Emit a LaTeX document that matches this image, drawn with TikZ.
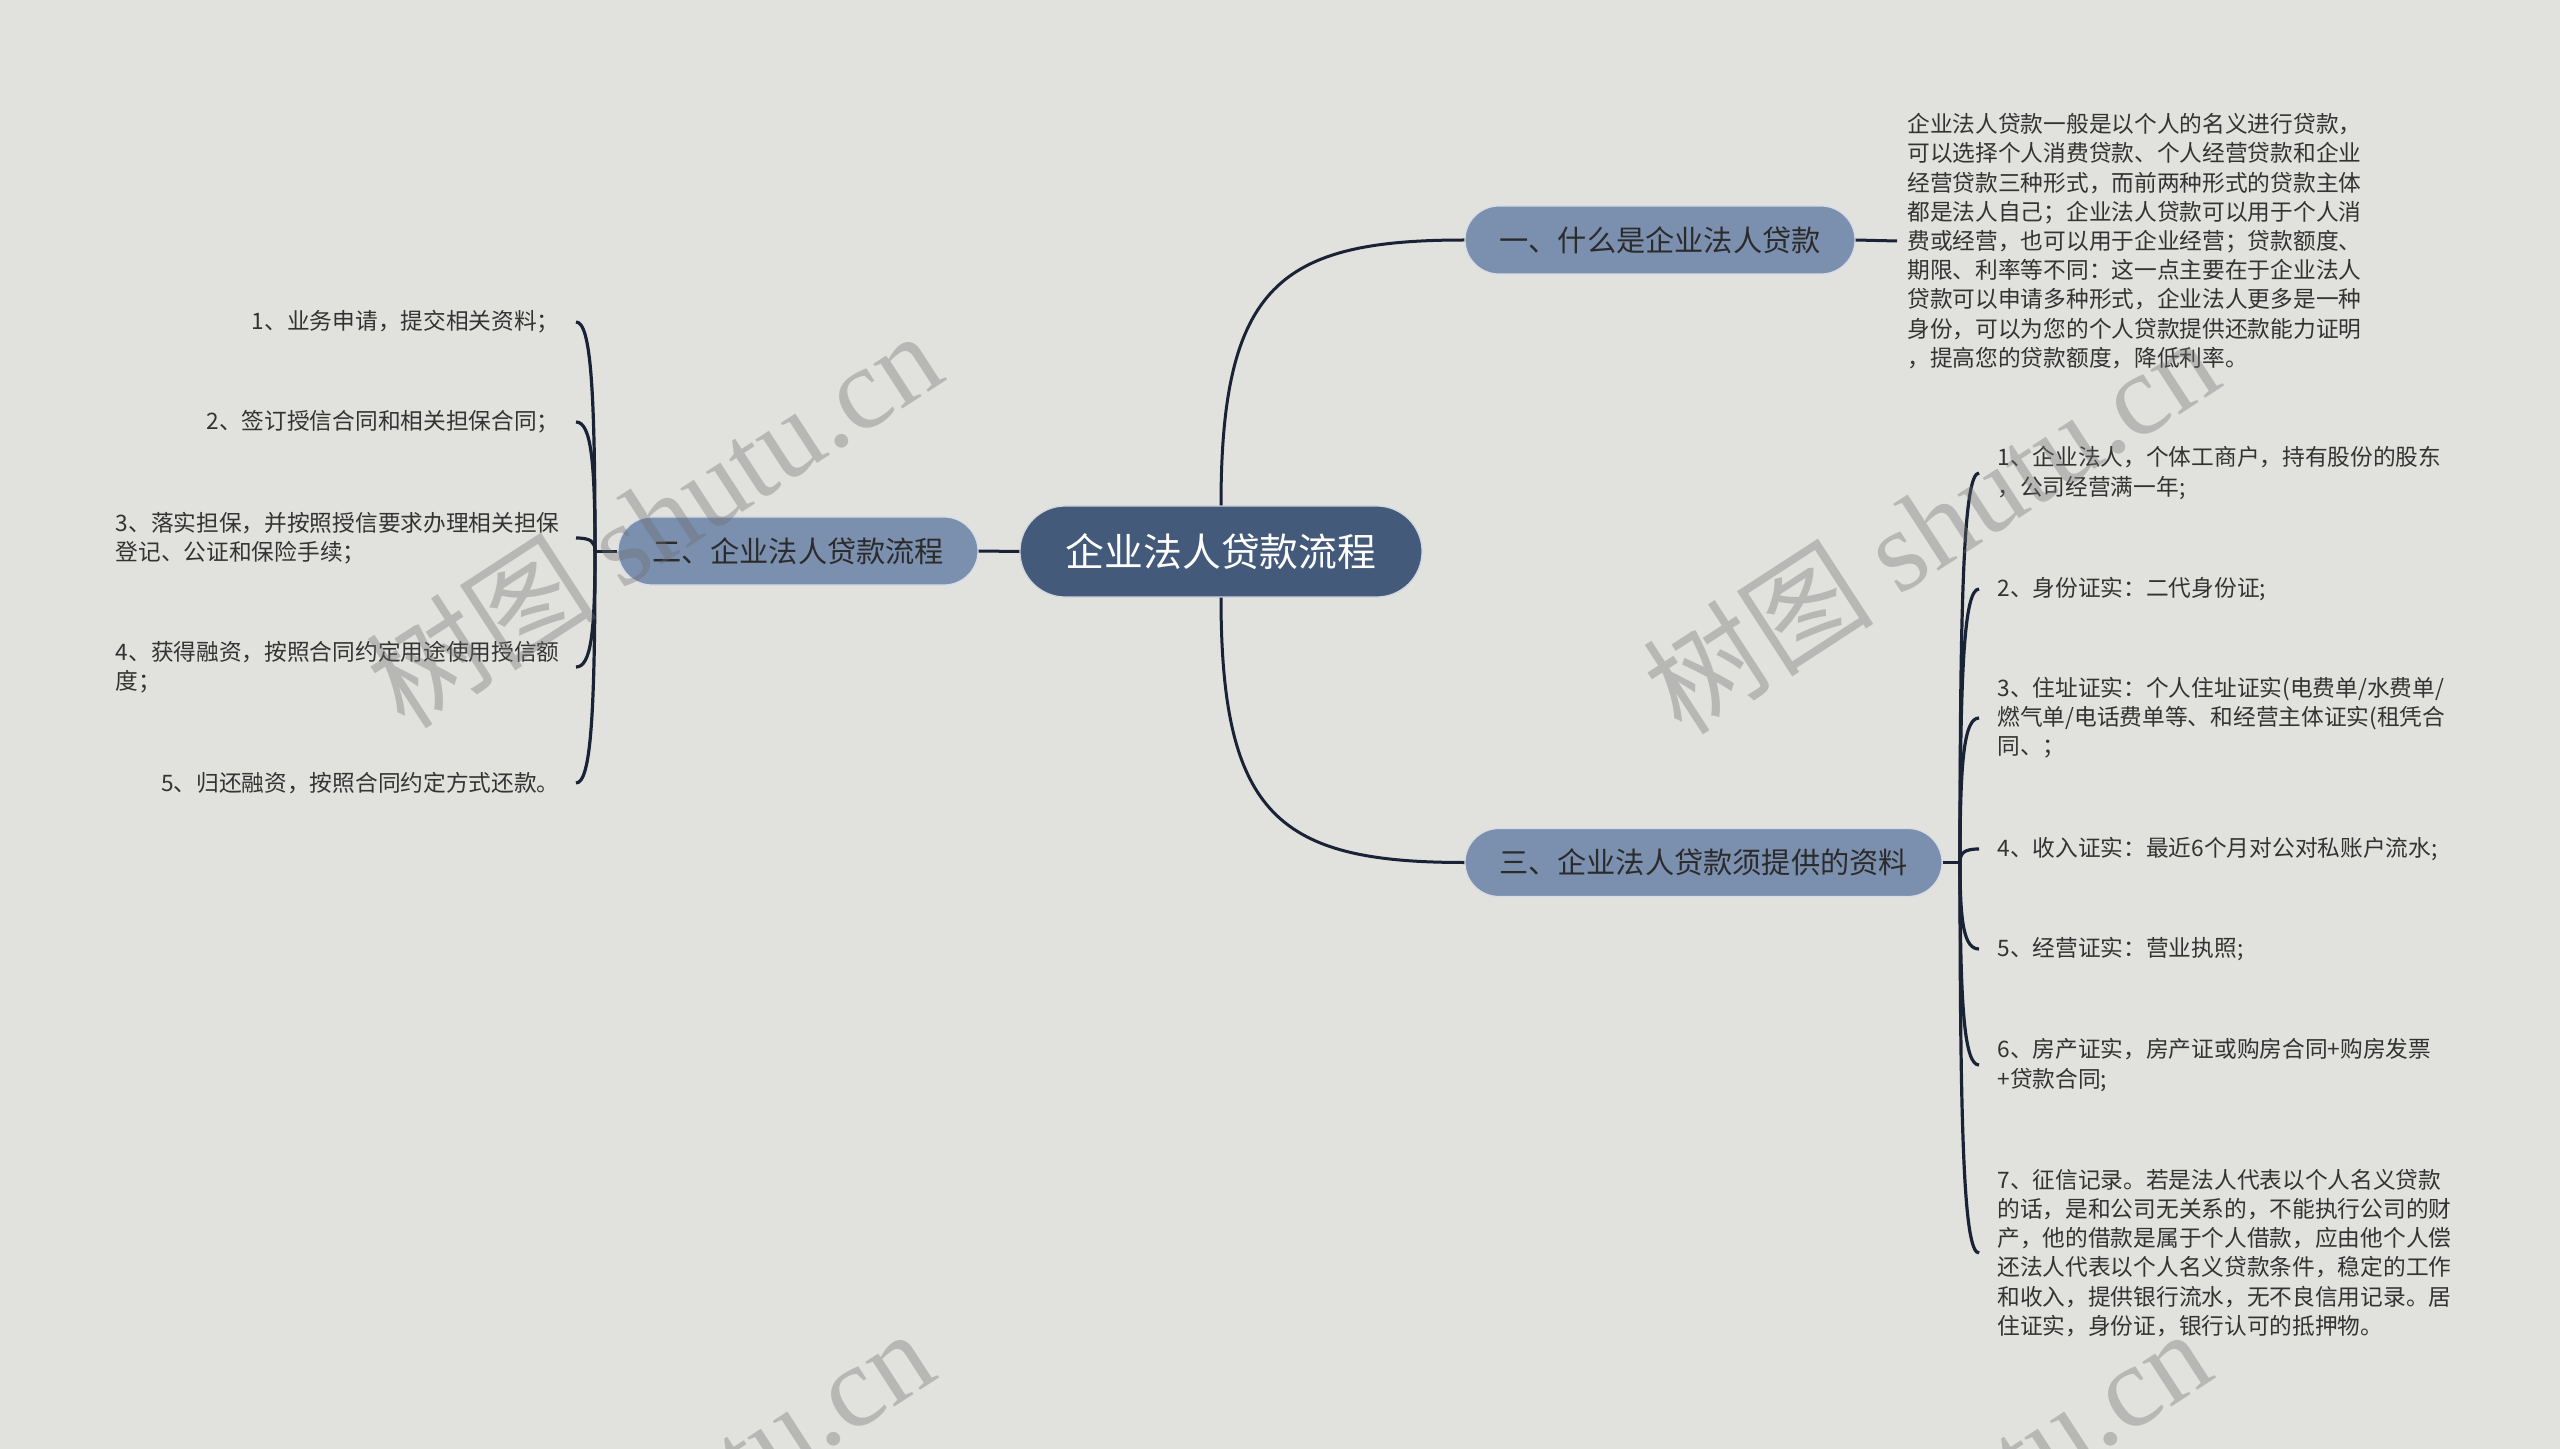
\documentclass[tikz,border=0pt]{standalone}
\usepackage{fontspec}
\setmainfont{Noto Sans CJK SC}
\newfontfamily\wmlatin{Liberation Serif}
\usetikzlibrary{calc}
\definecolor{bgC}{HTML}{E1E2DE}
\definecolor{rootC}{HTML}{445A7A}
\definecolor{subC}{HTML}{7B8FAE}
\definecolor{lineC}{HTML}{1A2236}
\definecolor{txtC}{HTML}{333333}
\definecolor{subtxtC}{HTML}{2B2B2B}
\definecolor{wmC}{HTML}{6E6E6E}
\begin{document}
\begin{tikzpicture}[x=0.5pt,y=-0.5pt,
  conn/.style={line width=1.5pt, draw=lineC},
  bracket/.style={line width=1.6pt, draw=lineC},
  rootbox/.style={fill=rootC, draw=white!75!rootC, line width=0.6pt, rounded corners=22.7pt,
    minimum width=201pt, minimum height=45.5pt, inner sep=0pt, text=white,
    font=\fontsize{19.4pt}{23pt}\selectfont},
  subbox/.style={fill=subC, draw=white!70!subC, line width=0.6pt, rounded corners=17pt,
    minimum height=34pt, inner sep=0pt, text=subtxtC,
    font=\fontsize{14.6pt}{17pt}\selectfont},
  itemR/.style={anchor=west, inner xsep=9pt, inner ysep=0pt, align=left, text=txtC,
    font=\fontsize{11.35pt}{14.6pt}\selectfont},
  itemL/.style={anchor=east, inner xsep=8pt, inner ysep=0pt, align=left, text=txtC,
    font=\fontsize{11.35pt}{14.6pt}\selectfont},
  wm/.style={text=wmC, text opacity=0.36, inner sep=0pt,
    font=\fontsize{58pt}{64pt}\selectfont}
]
\useasboundingbox (0,0) rectangle (2560,1449);
\fill[bgC] (0,0) rectangle (2560,1449);

% main nodes
\node[rootbox] (c) at (1221,551.5) {企业法人贷款流程};
\node[subbox, minimum width=195pt] (n1) at (1660,240) {一、什么是企业法人贷款};
\node[subbox, minimum width=180pt] (n2) at (798,551) {二、企业法人贷款流程};
\node[subbox, minimum width=238.5pt] (n3) at (1703.5,862.5) {三、企业法人贷款须提供的资料};

% root connectors
\draw[conn] (c.north) .. controls (1221,285) and (1280,240) .. (n1.west);
\draw[conn] (c.south) .. controls (1221,817) and (1280,862.5) .. (n3.west);
\draw[conn] (c.west) -- (n2.east);

% branch 1 text
\node[itemR, inner xsep=5pt] (t1) at (1897,241) {企业法人贷款一般是以个人的名义进行贷款，\\可以选择个人消费贷款、个人经营贷款和企业\\经营贷款三种形式，而前两种形式的贷款主体\\都是法人自己；企业法人贷款可以用于个人消\\费或经营，也可以用于企业经营；贷款额度、\\期限、利率等不同：这一点主要在于企业法人\\贷款可以申请多种形式，企业法人更多是一种\\身份，可以为您的个人贷款提供还款能力证明\\，提高您的贷款额度，降低利率。};
\draw[conn] (n1.east) -- (t1.west);

% branch 2 items
\coordinate (jl) at (595,551);
\node[itemL] (l1) at (576,322) {1、业务申请，提交相关资料；};
\node[itemL] (l2) at (576,422) {2、签订授信合同和相关担保合同；};
\node[itemL] (l3) at (576,538) {3、落实担保，并按照授信要求办理相关担保\\登记、公证和保险手续；};
\node[itemL] (l4) at (576,667) {4、获得融资，按照合同约定用途使用授信额\\度；};
\node[itemL] (l5) at (576,783) {5、归还融资，按照合同约定方式还款。};
\draw[conn] (n2.west) -- (jl);
\foreach \n in {l1,l2,l3,l4,l5}{
  \draw[bracket] (\n.east) .. controls +(15,0) and ($(jl)!0.7!(jl |- \n.east)$) .. (jl);
}

% branch 3 items
\coordinate (jr) at (1960,862.5);
\node[itemR] (r1) at (1979,473) {1、企业法人，个体工商户，持有股份的股东\\，公司经营满一年;};
\node[itemR] (r2) at (1979,589) {2、身份证实：二代身份证;};
\node[itemR] (r3) at (1979,718) {3、住址证实：个人住址证实(电费单/水费单/\\燃气单/电话费单等、和经营主体证实(租凭合\\同、；};
\node[itemR] (r4) at (1979,849) {4、收入证实：最近6个月对公对私账户流水;};
\node[itemR] (r5) at (1979,949) {5、经营证实：营业执照;};
\node[itemR] (r6) at (1979,1065) {6、房产证实，房产证或购房合同+购房发票\\+贷款合同;};
\node[itemR] (r7) at (1979,1253) {7、征信记录。若是法人代表以个人名义贷款\\的话，是和公司无关系的，不能执行公司的财\\产，他的借款是属于个人借款，应由他个人偿\\还法人代表以个人名义贷款条件，稳定的工作\\和收入，提供银行流水，无不良信用记录。居\\住证实，身份证，银行认可的抵押物。};
\draw[conn] (n3.east) -- (jr);
\foreach \n in {r1,r2,r3,r4,r5,r6,r7}{
  \draw[bracket] (\n.west) .. controls +(-15,0) and ($(jr)!0.7!(jr |- \n.west)$) .. (jr);
}

% watermarks
\begin{scope}
\clip (0,0) rectangle (2560,1449);
\node[wm, rotate=33] (w1) at (653,518) {树图 {\wmlatin shutu.cn}};
\node[wm, rotate=33] (w2) at (1930,524) {树图 {\wmlatin shutu.cn}};
\node[wm, rotate=33] (w3) at (645,1516) {树图 {\wmlatin shutu.cn}};
\node[wm, rotate=33] (w4) at (1922,1516) {树图 {\wmlatin shutu.cn}};
\end{scope}
\end{tikzpicture}
\end{document}
